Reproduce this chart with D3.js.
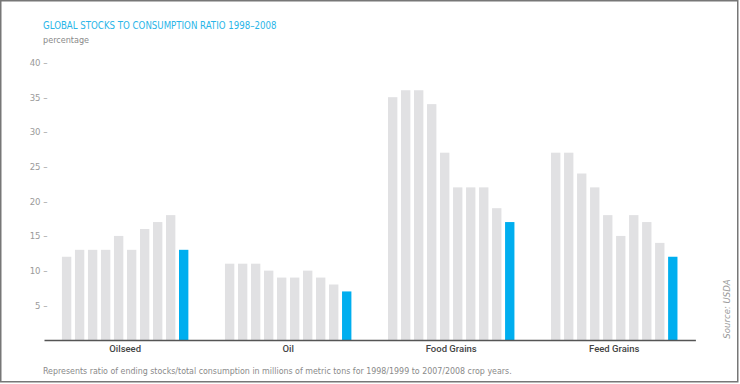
<!DOCTYPE html>
<html><head><meta charset="utf-8">
<script src="https://cdn.jsdelivr.net/npm/d3@7"></script>
<style>
html,body{margin:0;padding:0;background:#fff;}
svg{display:block;}
text{font-family:"DejaVu Sans Condensed","DejaVu Sans",sans-serif;}
</style></head>
<body>
<svg id="chart" width="740" height="384"></svg>
<script>
const groups = ["Oilseed", "Oil", "Food Grains", "Feed Grains"];
const years = ["1998/99","1999/00","2000/01","2001/02","2002/03","2003/04","2004/05","2005/06","2006/07","2007/08"];
const oilseed = [12, 13, 13, 13, 15, 13, 16, 17, 18, 13];
const oil = [11, 11, 11, 10, 9, 9, 10, 9, 8, 7];
const foodGrains = [35, 36, 36, 34, 27, 22, 22, 22, 19, 17];
const feedGrains = [27, 27, 24, 22, 18, 15, 18, 17, 14, 12];
const yTicks = [5, 10, 15, 20, 25, 30, 35, 40];

const seriesByGroup = [oilseed, oil, foodGrains, feedGrains];
const W = 740, H = 384;
const svg = d3.select("#chart");
const FONT = '"DejaVu Sans Condensed","DejaVu Sans",sans-serif';

// border
svg.append("rect").attr("x", 0.75).attr("y", 0.75).attr("width", W - 3).attr("height", H - 3)
  .attr("fill", "none").attr("stroke", "#777").attr("stroke-width", 1.5);

const x0 = d3.scaleBand().domain(groups).range([44, 695.4]).paddingInner(0.2245).paddingOuter(0.11);
const x1 = d3.scaleBand().domain(years).range([0, x0.bandwidth()]).paddingInner(0.28).paddingOuter(0);
const y = d3.scaleLinear().domain([0, 40]).range([340, 62.5]);

// title
svg.append("text").attr("x", 43).attr("y", 29).attr("fill", "#29b5e8").attr("font-size", 9.6)
  .text("GLOBAL STOCKS TO CONSUMPTION RATIO 1998\u20132008");
svg.append("text").attr("x", 43).attr("y", 43).attr("fill", "#8a8a8a").attr("font-size", 9)
  .text("percentage");

// bars
const g = svg.append("g");
groups.forEach((grp, gi) => {
  const vals = seriesByGroup[gi];
  g.selectAll(null).data(vals).enter().append("rect")
    .attr("x", (d, i) => x0(grp) + x1(years[i]))
    .attr("width", x1.bandwidth())
    .attr("y", d => y(d))
    .attr("height", d => y(0) - y(d))
    .attr("fill", (d, i) => i === vals.length - 1 ? "#00aeef" : "#e1e1e3");
});

// y axis
const yAxis = svg.append("g").attr("transform", "translate(47.5,0)")
  .call(d3.axisLeft(y).tickValues(yTicks).tickSize(0).tickPadding(0).tickFormat(d => d + " \u2013"));
yAxis.select(".domain").remove();
yAxis.selectAll("text").attr("fill", "#9a9a9a").attr("font-size", 9.5).style("font-family", FONT);

// x axis
const xAxis = svg.append("g").attr("transform", "translate(0,340)")
  .call(d3.axisBottom(x0).tickSize(0).tickSizeOuter(0).tickPadding(5));
xAxis.select(".domain").attr("stroke", "#555").attr("stroke-width", 1.5);
xAxis.selectAll("text").attr("fill", "#444").attr("font-size", 9.5).attr("font-weight", 500)
  .style("font-family", 'Roboto,"DejaVu Sans Condensed",sans-serif');

// footnote
svg.append("text").attr("x", 43).attr("y", 374).attr("fill", "#8a8a8a").attr("font-size", 8.8)
  .text("Represents ratio of ending stocks/total consumption in millions of metric tons for 1998/1999 to 2007/2008 crop years.");

// source
svg.append("text").attr("transform", "translate(730,309) rotate(-90)").attr("text-anchor", "middle")
  .attr("fill", "#9a9a9a").attr("font-size", 9.5).attr("font-style", "italic")
  .text("Source: USDA");
</script>
</body></html>
